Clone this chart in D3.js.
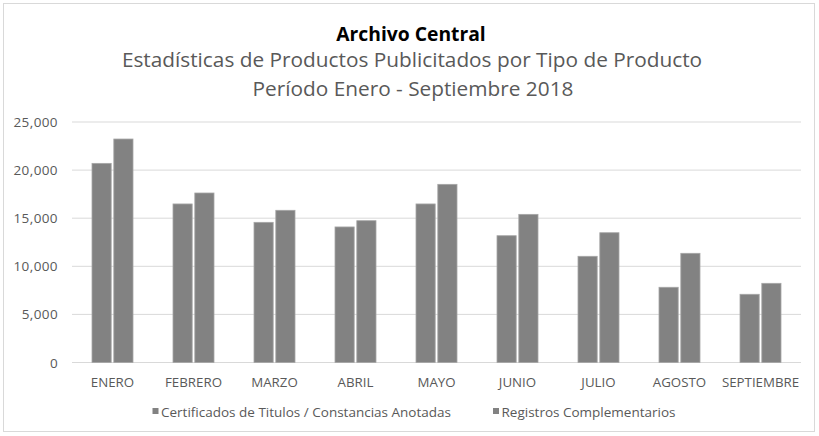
<!DOCTYPE html>
<html>
<head>
<meta charset="utf-8">
<script src="https://cdn.jsdelivr.net/npm/d3@7"></script>
<style>
  body { margin: 0; background: #fff; }
  text { font-family: "Open Sans", "Noto Sans", sans-serif; }
</style>
</head>
<body>
<div id="chart"></div>
<script>
var W = 819, H = 436

// data
var months = ["ENERO", "FEBRERO", "MARZO", "ABRIL", "MAYO", "JUNIO", "JULIO", "AGOSTO", "SEPTIEMBRE"]
var series = ["Certificados de Titulos / Constancias Anotadas", "Registros Complementarios"]
var certificados = [20700, 16480, 14570, 14090, 16480, 13180, 11040, 7820, 7090]
var registros = [23230, 17620, 15820, 14740, 18520, 15400, 13490, 11350, 8230]
var yTicks = [0, 5000, 10000, 15000, 20000, 25000]

var left = 72, right = 801, top_y = 122, bottom_y = 362.5

var svg = d3.select("#chart").append("svg")
  .attr("width", W).attr("height", H)

// chart frame
svg.append("rect")
  .attr("x", 3.5).attr("y", 3.5)
  .attr("width", 811).attr("height", 428)
  .attr("fill", "#fff").attr("stroke", "#d9d9d9")

var x = d3.scaleBand().domain(months).range([left, right]).paddingInner(0).paddingOuter(0)
var x1 = d3.scaleBand().domain([0, 1]).range([0, 41]).paddingInner(0.12)
var y = d3.scaleLinear().domain([0, 25000]).range([bottom_y, top_y])

// grid
svg.append("g").selectAll("line")
  .data(yTicks).enter().append("line")
  .attr("x1", left).attr("x2", right)
  .attr("y1", d => y(d)).attr("y2", d => y(d))
  .attr("stroke", "#d9d9d9").attr("stroke-width", 1)

// y labels
var fmt = d3.format(",")
svg.append("g").selectAll("text")
  .data(yTicks).enter().append("text")
  .attr("x", 58).attr("y", d => y(d) + 5)
  .attr("text-anchor", "end")
  .attr("font-size", 13.5).attr("letter-spacing", 0.4).attr("fill", "#595959")
  .text(d => fmt(d))

// bars
var rows = months.map((m, i) => ({ m: m, vals: [certificados[i], registros[i]] }))
var groups = svg.append("g").selectAll("g")
  .data(rows).enter().append("g")
  .attr("transform", d => "translate(" + (x(d.m) + (x.bandwidth() - 41) / 2) + ",0)")

groups.selectAll("rect")
  .data(d => d.vals).enter().append("rect")
  .attr("x", (d, i) => x1(i))
  .attr("y", d => y(d))
  .attr("width", x1.bandwidth())
  .attr("height", d => y(0) - y(d))
  .attr("fill", "#828282")
  .attr("stroke", "#a6a6a6").attr("stroke-width", 0.8)

// x labels
svg.append("g").selectAll("text")
  .data(months).enter().append("text")
  .attr("x", d => x(d) + x.bandwidth() / 2)
  .attr("y", 387)
  .attr("text-anchor", "middle")
  .attr("font-size", 13.3).attr("fill", "#595959")
  .text(d => d)

// titles
svg.append("text").attr("x", 411).attr("y", 41)
  .attr("text-anchor", "middle").attr("font-size", 19.3).attr("font-weight", "bold")
  .attr("fill", "#000").text("Archivo Central")
svg.append("text").attr("x", 412).attr("y", 67)
  .attr("text-anchor", "middle").attr("font-size", 20.8).attr("fill", "#595959")
  .text("Estadísticas de Productos Publicitados por Tipo de Producto")
svg.append("text").attr("x", 413).attr("y", 96)
  .attr("text-anchor", "middle").attr("font-size", 20.8).attr("fill", "#595959")
  .text("Período Enero - Septiembre 2018")

// legend
var legX = [152.5, 493]
var leg = svg.append("g").selectAll("g")
  .data(series).enter().append("g")
  .attr("transform", (d, i) => "translate(" + legX[i] + ",0)")
leg.append("rect").attr("x", 0).attr("y", 408).attr("width", 6).attr("height", 6)
  .attr("fill", "#828282")
leg.append("text").attr("x", 8.5).attr("y", 417)
  .attr("font-size", 13.5).attr("fill", "#595959")
  .text(d => d)
</script>
</body>
</html>
